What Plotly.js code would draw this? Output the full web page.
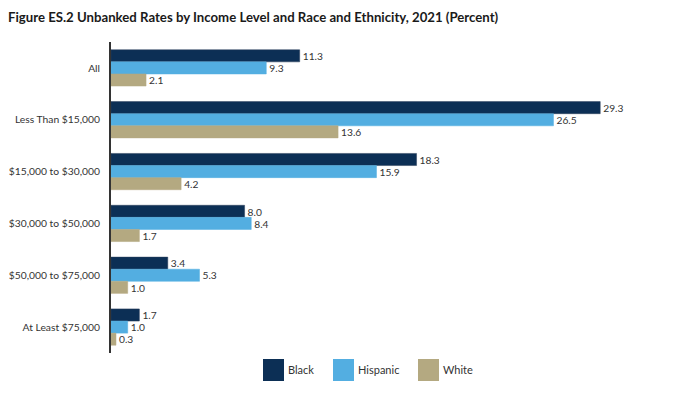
<!DOCTYPE html>
<html>
<head>
<meta charset="utf-8">
<script src="https://cdn.plot.ly/plotly-3.0.1.min.js"></script>
<style>html,body{margin:0;padding:0;background:#fff;}#chart{width:700px;height:393px;}</style>
</head>
<body>
<div id="chart"></div>
<script>
const categories = ["All", "Less Than $15,000", "$15,000 to $30,000", "$30,000 to $50,000", "$50,000 to $75,000", "At Least $75,000"];
const seriesNames = ["Black", "Hispanic", "White"];
const black = [11.3, 29.3, 18.3, 8.0, 3.4, 1.7];
const hispanic = [9.3, 26.5, 15.9, 8.4, 5.3, 1.0];
const white = [2.1, 13.6, 4.2, 1.7, 1.0, 0.3];
const colors = ["#0c2f55", "#53aee1", "#b4a981"];
const seriesValues = [black, hispanic, white];

const FONT = "Lato, 'Open Sans', sans-serif";

const traces = seriesValues.map((vals, i) => ({
  type: "bar",
  orientation: "h",
  name: seriesNames[i],
  y: categories,
  x: vals,
  marker: {color: colors[i], line: {color: i === 0 ? "#2a3f5a" : colors[i], width: 0.5}},
  text: vals.map(v => v.toFixed(1)),
  textposition: "outside",
  cliponaxis: false,
  textfont: {family: FONT, size: 11, color: "#333"},
  showlegend: false,
  hoverinfo: "x+name"
}));

// custom legend (squares + labels) in paper coords
const legendX = [263, 333, 418];
const shapes = [];
const annotations = [];
const plotL = 111, plotR = 662, plotT = 42, plotB = 353;
const px = x => (x - plotL) / (plotR - plotL);
const py = y => (plotB - y) / (plotB - plotT);
seriesNames.forEach((n, i) => {
  shapes.push({type: "rect", xref: "paper", yref: "paper",
    x0: px(legendX[i]), x1: px(legendX[i] + 21), y0: py(359), y1: py(381),
    fillcolor: colors[i], line: {width: 0}});
  annotations.push({xref: "paper", yref: "paper", x: px(legendX[i] + 23), y: py(370),
    xanchor: "left", yanchor: "middle", text: n, showarrow: false,
    font: {family: FONT, size: 11, color: "#333"}});
});

const layout = {
  width: 700, height: 393,
  margin: {l: plotL, r: 700 - plotR, t: plotT, b: 393 - plotB},
  paper_bgcolor: "#fff", plot_bgcolor: "#fff",
  title: {text: "<b>Figure ES.2 Unbanked Rates by Income Level and Race and Ethnicity, 2021 (Percent)</b>",
    x: 8 / 700, xanchor: "left", xref: "container", y: 1 - 17 / 393, yanchor: "middle", yref: "container",
    font: {family: FONT, size: 13.2, color: "#1a1a1a"}},
  barmode: "group",
  bargap: 0.3,
  bargroupgap: 0,
  xaxis: {range: [0, 33], visible: false, showgrid: false, zeroline: false, fixedrange: true},
  yaxis: {autorange: "reversed", showline: true, linecolor: "#333", linewidth: 2,
    ticks: "", ticklen: 0, showgrid: false, zeroline: false,
    tickfont: {family: FONT, size: 10.3, color: "#333"}, ticklabelstandoff: 7, fixedrange: true},
  shapes: shapes,
  annotations: annotations,
  showlegend: false,
  font: {family: FONT}
};

Plotly.newPlot("chart", traces, layout, {displayModeBar: false, staticPlot: true});
</script>
</body>
</html>
